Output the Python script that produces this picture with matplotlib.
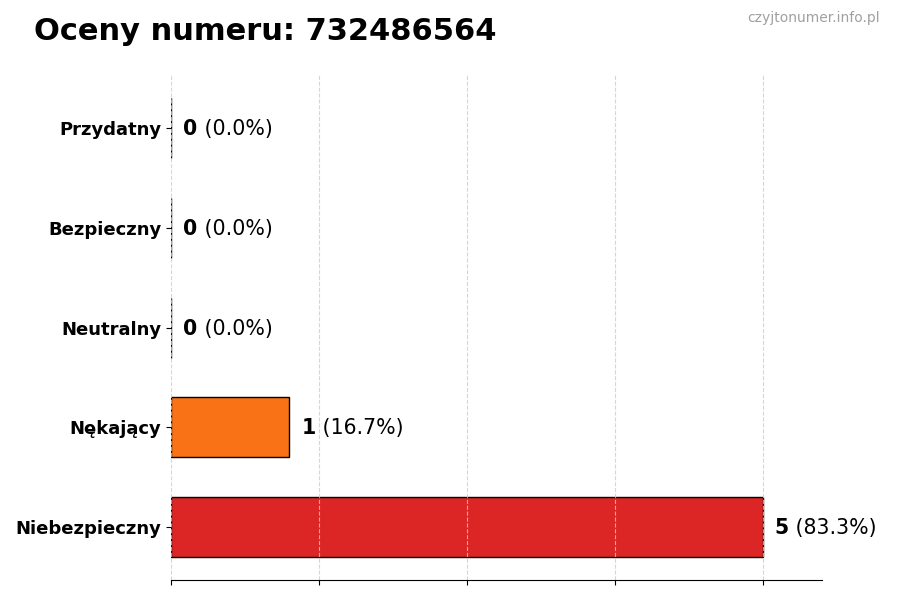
import matplotlib
matplotlib.use("Agg")
import matplotlib.pyplot as plt
import numpy as np

categories = ["Niebezpieczny", "Nękający", "Neutralny", "Bezpieczny", "Przydatny"]
values = [5, 1, 0, 0, 0]
colors = ["#dc2626", "#f97316", "#9ca3af", "#22c55e", "#3b82f6"]
title = "Oceny numeru: 732486564"
watermark = "czyjtonumer.info.pl"

total = sum(values)
vmax = max(values)

fig = plt.figure(figsize=(9, 6), dpi=100)
ax = fig.add_axes([0.19, 0.033, 0.723, 0.842])

y = np.arange(len(categories))
ax.barh(y, values, height=0.6, color=colors, edgecolor="black", linewidth=1)

ax.set_xlim(0, vmax * 1.1)
ax.set_xticks(np.linspace(0, vmax, 5))
ax.set_xticklabels([])
ax.set_yticks(y)
ax.set_yticklabels(categories, fontsize=13, fontweight="bold")
ax.grid(axis="x", linestyle="--", color="#cccccc", linewidth=0.8, alpha=0.8)
for s in ["top", "right", "left"]:
    ax.spines[s].set_visible(False)

off = vmax * 1.1 * 0.019
for yi, v in zip(y, values):
    pct = v / total * 100 if total else 0
    t = ax.text(v + off, yi - 0.01, f"{v}", fontsize=14.8, fontweight="bold", va="center", ha="left")
    ax.annotate(f" ({pct:.1f}%)", xy=(1, 0.5), xycoords=t, fontsize=14.8,
                va="center", ha="left")

fig.text(0.038, 1 - 40 / 600, title, fontsize=22, fontweight="bold", va="baseline", ha="left")
fig.text(880 / 900, 1 - 22 / 600, watermark, fontsize=10, color="#a0a0a0",
         va="baseline", ha="right")

fig.savefig("out.png", dpi=100)
